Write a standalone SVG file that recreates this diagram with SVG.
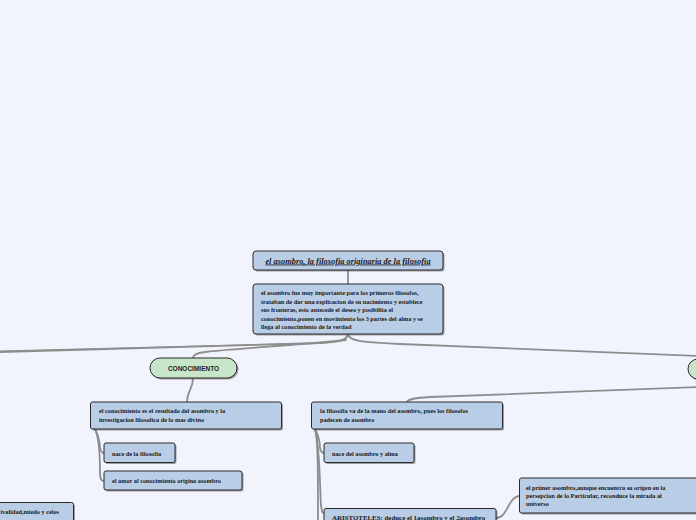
<svg xmlns="http://www.w3.org/2000/svg" width="696" height="520" viewBox="0 0 696 520">
<style>
.bg{fill:#f1f4fd}
.box{fill:#b9cde6;stroke:#2a2a2a;stroke-width:1}
.gbox{fill:#c7e6c9;stroke:#2a2a2a;stroke-width:1}
.sh{fill:#555;opacity:0.55}
.t{font-family:"Liberation Serif","DejaVu Serif",serif;font-weight:bold;font-size:6.25px;fill:#1a1a1a}
.title{font-family:"Liberation Serif","DejaVu Serif",serif;font-weight:bold;font-style:italic;font-size:8.4px;fill:#1a1a1a;text-decoration:underline}
.g{font-family:"Liberation Sans","Arial",sans-serif;font-weight:bold;font-size:6.5px;fill:#222}
.c{fill:none;stroke:#8d8d8d;stroke-width:1.8;stroke-linecap:round}
</style>
<rect class="bg" x="0" y="0" width="696" height="520"/>
<g id="connectors">
<path class="c" d="M348,270 L348,284"/>
<path class="c" d="M348,334 C347,340 340,342 320,343 L0,352"/>
<path class="c" d="M348,334 C347,340 340,342 320,343 L0,351" style="stroke-width:1"/>
<path class="c" d="M346,340 C300,345 230,349 205,352 C196,353 193,355 193,358"/>
<path class="c" d="M348,334 C349,341 360,342 400,344 L700,356"/>
<path class="c" d="M700,387 L430,397 C415,398 408,399 407,402"/>
<path class="c" d="M193,378 C193,390 187,390 187,402"/>
<path class="c" d="M95,429 C99,437 100,444 100,448 C101,452 102,453 104,453"/>
<path class="c" d="M95,429 C100,440 100,460 100,472 C100,479 101,481 104,481"/>
<path class="c" d="M315,429 C319,437 320,444 320,448 C321,452 322,453 324,453"/>
<path class="c" d="M315,429 C318,440 318,470 318,520"/>
<path class="c" d="M315,429 C320,445 320,495 321,505 C322,512 322,513 324,513"/>
<path class="c" d="M496,518 C508,518 508,496 520,496"/>
</g>
<g id="title">
<rect class="sh" x="254.5" y="252.5" width="190" height="19" rx="3"/>
<rect class="box" x="253" y="251" width="190" height="19" rx="3"/>
<text class="title" x="348" y="263.5" text-anchor="middle">el asombro, la filosofia originaria de la filosofia</text>
</g>
<g id="desc">
<rect class="sh" x="254.5" y="285.5" width="190" height="50" rx="3"/>
<rect class="box" x="253" y="284" width="190" height="50" rx="3"/>
<text class="t" x="261" y="295">el asombro fue muy importante para los primeros filosofos,</text>
<text class="t" x="261" y="303.5">trataban de dar una explicacion de su nacimiento y establece</text>
<text class="t" x="261" y="312">sus fronteras, esto antecede el deseo y posibilita el</text>
<text class="t" x="261" y="320.5">conocimiento,ponen en movimiento los 3 partes del alma y se</text>
<text class="t" x="261" y="329">llega al conocimiento de la verdad</text>
</g>
<g id="conocimiento">
<rect class="sh" x="151.5" y="359.5" width="87" height="20" rx="10"/>
<rect class="gbox" x="150" y="358" width="87" height="20" rx="10"/>
<text class="g" x="193.5" y="370.5" text-anchor="middle">CONOCIMIENTO</text>
</g>
<g id="right-node">
<rect class="sh" x="689.5" y="360.5" width="60" height="20" rx="10"/>
<rect class="gbox" x="688" y="359" width="60" height="20" rx="10"/>
</g>
<g id="conoc-box">
<rect class="sh" x="92" y="403.5" width="191" height="27" rx="2"/>
<rect class="box" x="90.5" y="402" width="191" height="27" rx="2"/>
<text class="t" x="99" y="413">el conocimiento es el resultado del asombro y la</text>
<text class="t" x="99" y="421.5">investigacion filosofica de lo mas divino</text>
</g>
<g id="nace-filosofia">
<rect class="sh" x="105.5" y="444.5" width="71" height="19.5" rx="2"/>
<rect class="box" x="104" y="443" width="71" height="19.5" rx="2"/>
<text class="t" x="112" y="455.5">nace de la filosofia</text>
</g>
<g id="amor">
<rect class="sh" x="105.5" y="472.5" width="138" height="19" rx="2"/>
<rect class="box" x="104" y="471" width="138" height="19" rx="2"/>
<text class="t" x="112" y="483">el amor al conocimiento origina asombro</text>
</g>
<g id="filosofia-box">
<rect class="sh" x="313" y="403.5" width="191" height="27" rx="2"/>
<rect class="box" x="311.5" y="402" width="191" height="27" rx="2"/>
<text class="t" x="320" y="413">la filosofia va de la mano del asombro, pues los filosofos</text>
<text class="t" x="320" y="421.5">padecen de asombro</text>
</g>
<g id="nace-asombro">
<rect class="sh" x="325.5" y="444.5" width="90" height="19.5" rx="2"/>
<rect class="box" x="324" y="443" width="90" height="19.5" rx="2"/>
<text class="t" x="332" y="455.5">nace del asombro y alma</text>
</g>
<g id="aristoteles">
<rect class="sh" x="325.5" y="510" width="172" height="20" rx="2"/>
<rect class="box" x="324" y="508.5" width="172" height="20" rx="2"/>
<text class="t" x="332" y="520" style="font-size:6.9px">ARISTOTELES: deduce el 1asombro y el 2asombro</text>
</g>
<g id="primer-asombro">
<rect class="sh" x="521" y="479.5" width="178" height="35" rx="2"/>
<rect class="box" x="519.5" y="478" width="178" height="35" rx="2"/>
<text class="t" x="526" y="489.5">el primer asombro,aunque encuentra su origen en la</text>
<text class="t" x="526" y="497.5">persepcion de lo Particular, reconduce la mirada al</text>
<text class="t" x="526" y="505.5">universo</text>
</g>
<g id="rivalidad">
<rect class="sh" x="-20" y="504" width="95" height="20" rx="2"/>
<rect class="box" x="-21.5" y="502.5" width="95" height="20" rx="2"/>
<text class="t" x="0.5" y="514">ivalidad,miedo y celos</text>
</g>
</svg>
